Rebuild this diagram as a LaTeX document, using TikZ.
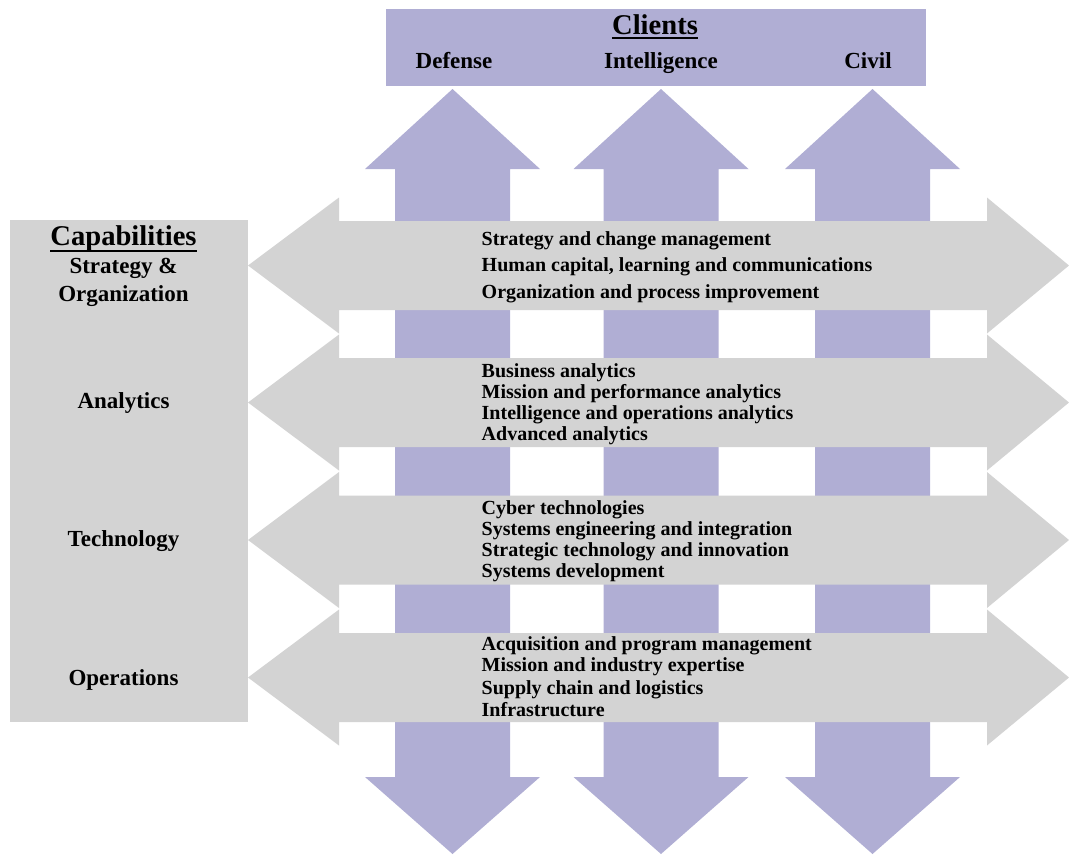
\documentclass[tikz,border=0pt]{standalone}
\usepackage{fontspec}
\setmainfont{Liberation Serif}
\definecolor{cpurple}{RGB}{176,174,212}
\definecolor{cgray}{RGB}{211,211,211}
\begin{document}
\begin{tikzpicture}[x=1pt,y=-1pt,
  item/.style={anchor=base west,inner sep=0pt,font=\fontsize{20}{24}\selectfont\bfseries},
  lab/.style={anchor=base,inner sep=0pt,font=\fontsize{23}{27}\selectfont\bfseries},
  ttl/.style={anchor=base,inner sep=0pt,font=\fontsize{28.6}{32}\selectfont\bfseries},
  uline/.style={line width=2pt}]
\useasboundingbox (0,0) rectangle (1069,855);
% vertical client arrows
\foreach \c in {452.5,661,872.5}{
  \fill[cpurple] (\c,89) -- (\c+87.5,169) -- (\c+57.5,169) -- (\c+57.5,777) -- (\c+87.5,777)
    -- (\c,854) -- (\c-87.5,777) -- (\c-57.5,777) -- (\c-57.5,169) -- (\c-87.5,169) -- cycle;
}
% clients box
\fill[cpurple] (386,9) rectangle (926,86);
% capability bands
\foreach \yc in {265.5,402.5,540,677.5}{
  \fill[cgray] (248,\yc) -- (339,\yc-68) -- (339,\yc-44.5) -- (987,\yc-44.5) -- (987,\yc-68)
    -- (1069,\yc) -- (987,\yc+68) -- (987,\yc+44.5) -- (339,\yc+44.5) -- (339,\yc+68) -- cycle;
}
% capabilities box
\fill[cgray] (9.5,220) rectangle (248,722);

% clients texts
\node[ttl] (clients) at (655,34) {Clients};
\draw[uline] ([yshift=-4pt]clients.base west) -- ([yshift=-4pt]clients.base east);
\node[lab] (defense) at (454,68.5) {Defense};
\node[lab] (intel) at (661,68.5) {Intelligence};
\node[lab] (civil) at (868,68.5) {Civil};

% capabilities texts
\node[ttl] (cap) at (123.5,245) {Capabilities};
\draw[uline] ([yshift=-6pt]cap.base west) -- ([yshift=-6pt]cap.base east);
\node[lab] (strat) at (123.5,273) {Strategy \&};
\node[lab] (org) at (123.5,301) {Organization};
\node[lab] (analytics) at (123.5,408) {Analytics};
\node[lab] (tech) at (123.5,546) {Technology};
\node[lab] (ops) at (123.5,685) {Operations};

% band items
\node[item] (a1) at (481.5,245) {Strategy and change management};
\node[item] (a2) at (481.5,271.7) {Human capital, learning and communications};
\node[item] (a3) at (481.5,298) {Organization and process improvement};

\node[item] (b1) at (481.5,377.7) {Business analytics};
\node[item] (b2) at (481.5,398.3) {Mission and performance analytics};
\node[item] (b3) at (481.5,419.3) {Intelligence and operations analytics};
\node[item] (b4) at (481.5,440) {Advanced analytics};

\node[item] (c1) at (481.5,514.3) {Cyber technologies};
\node[item] (c2) at (481.5,535.7) {Systems engineering and integration};
\node[item] (c3) at (481.5,556.7) {Strategic technology and innovation};
\node[item] (c4) at (481.5,577.7) {Systems development};

\node[item] (d1) at (481.5,650) {Acquisition and program management};
\node[item] (d2) at (481.5,671.7) {Mission and industry expertise};
\node[item] (d3) at (481.5,694) {Supply chain and logistics};
\node[item] (d4) at (481.5,716) {Infrastructure};
\end{tikzpicture}
\end{document}
